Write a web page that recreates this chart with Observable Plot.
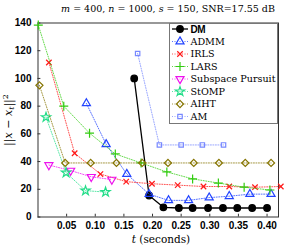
<!DOCTYPE html>
<html><head><meta charset="utf-8">
<script src="https://cdn.jsdelivr.net/npm/d3@7"></script>
<script src="https://cdn.jsdelivr.net/npm/@observablehq/plot@0.6"></script>
<style>body{margin:0;background:#fff}#chart{width:287px;height:245px}</style>
</head><body><div id="chart"></div>
<script>
// ---- data ----
const methods = ["DM","ADMM","IRLS","LARS","Subspace Pursuit","StOMP","AIHT","AM"];
const dmT   = [0.168,0.194,0.219,0.246,0.270,0.297,0.323,0.348,0.374,0.400];
const dmV   = [100,15.5,7,6.5,6.5,6.5,6.5,6.5,6.5,6.5];
const admmT = [0.0845,0.119,0.155,0.194,0.228,0.263,0.299,0.334,0.370,0.407];
const admmV = [82,52.5,31,16.5,12,12,14,15,16.5,16.5];
const irlsT = [0.019,0.064,0.109,0.154,0.199,0.244,0.289,0.334,0.379,0.424];
const irlsV = [111.5,46,31,25.5,24,23,22,22,21.5,22];
const larsT = [0.0005,0.045,0.09,0.135,0.18,0.225,0.27,0.315,0.36,0.405];
const larsV = [138.5,80,60.5,45.5,39,32.5,27.5,24.5,21.5,19.5];
const spT   = [0.019,0.057,0.093,0.129];
const spV   = [37.5,33.5,29,27];
const stompT= [0.014,0.049,0.083,0.118];
const stompV= [72,32,19,18];
const aihtT = [0.0025,0.0475,0.092,0.137,0.182,0.227,0.272,0.316,0.362,0.407];
const aihtV = [95,39,39,39,39,39,39,39,39,39];
const amT   = [0.174,0.212,0.25,0.287,0.324];
const amV   = [118,52,52,52,52];
const xTicks = [0.05,0.1,0.15,0.2,0.25,0.3,0.35,0.4];
const yTicks = [0,20,40,60,80,100,120,140];
const titleParts = [["m",true],[" = 400, ",false],["n",true],[" = 1000, ",false],["s",true],[" = 150, SNR=17.55 dB",false]];

// ---- styles ----
const triangleDown = {draw(ctx, size){const y=-Math.sqrt(size/(Math.sqrt(3)*3));ctx.moveTo(0,-y*2);ctx.lineTo(-Math.sqrt(3)*y,y);ctx.lineTo(Math.sqrt(3)*y,y);ctx.closePath();}};
const styles = {
  "DM":{color:"#000",symbol:"circle",fill:"#000",r:3.3,dash:null,lw:1.3},
  "ADMM":{color:"#2244ff",symbol:"triangle",fill:"none",r:3,dash:"1,1.5",lw:1},
  "IRLS":{color:"#ff1a1a",symbol:"times",fill:"none",r:2.6,dash:"1,1.5",lw:1},
  "LARS":{color:"#33cc11",symbol:"plus",fill:"none",r:3,dash:"1,1.5",lw:1},
  "Subspace Pursuit":{color:"#ee11ee",symbol:triangleDown,fill:"none",r:3,dash:"1,1.5",lw:1},
  "StOMP":{color:"#22dd88",symbol:"star",fill:"none",r:2.9,dash:"1,1.5",lw:1},
  "AIHT":{color:"#857400",symbol:"diamond2",fill:"none",r:3.2,dash:"1,1.5",lw:1},
  "AM":{color:"#7788ff",symbol:"square2",fill:"none",r:2.8,dash:"1,1.5",lw:1}
};
const series = {
  "DM":[dmT,dmV],"ADMM":[admmT,admmV],"IRLS":[irlsT,irlsV],"LARS":[larsT,larsV],
  "Subspace Pursuit":[spT,spV],"StOMP":[stompT,stompV],"AIHT":[aihtT,aihtV],"AM":[amT,amV]
};

const marks = [
  Plot.frame({stroke:"#333"}),
  Plot.ruleX(xTicks,{y1:0,y2:2,stroke:"#333"}),
  Plot.ruleY(yTicks,{x1:0,x2:0.005,stroke:"#333"})
];
for (const m of methods) {
  const [T,V] = series[m];
  const data = T.map((t,i)=>({t, v:V[i]}));
  const s = styles[m];
  marks.push(Plot.line(data,{x:"t",y:"v",stroke:s.color,strokeWidth:s.lw,strokeDasharray:s.dash||undefined,strokeOpacity:m==="DM"?1:0.75}));
  marks.push(Plot.dot(data,{x:"t",y:"v",symbol:()=>s.symbol,r:s.r,stroke:s.color,fill:s.fill,strokeWidth:1.2}));
}
marks.push(Plot.axisX({ticks:xTicks,tickSize:0,tickPadding:4.5,label:null}));
marks.push(Plot.axisY({ticks:yTicks,tickSize:0,tickPadding:6.5,label:null}));

const svgNode = Plot.plot({
  width:287,height:245,
  marginLeft:37.5,marginRight:9,marginTop:22.5,marginBottom:28.5,
  x:{domain:[0,0.42]},
  y:{domain:[0,140]},
  symbol:{type:"identity"},
  style:{fontFamily:"'Liberation Sans',Arial,sans-serif",fontSize:"10px",fontWeight:"bold",color:"#000",background:"#fff",overflow:"visible"},
  marks
});
document.getElementById("chart").appendChild(svgNode);

// ---- annotations (title, axis labels, legend) ----
const svg = d3.select(svgNode);
const serif = "'DejaVu Serif','Liberation Serif',serif";
const tt = svg.append("text").attr("x",168).attr("y",12).attr("text-anchor","middle")
  .attr("font-family",serif).attr("font-size",9.5).attr("font-weight","normal");
titleParts.forEach(([s,it])=>tt.append("tspan").attr("font-style",it?"italic":"normal").text(s));

const xl = svg.append("text").attr("x",161).attr("y",242.5).attr("text-anchor","middle")
  .attr("font-family",serif).attr("font-size",10.5).attr("font-weight","normal");
xl.append("tspan").attr("font-style","italic").text("t");
xl.append("tspan").text(" (seconds)");

const yl = svg.append("text").attr("transform","translate(12,120) rotate(-90)").attr("text-anchor","middle")
  .attr("font-family",serif).attr("font-size",11).attr("font-weight","normal");
yl.append("tspan").text("||");
yl.append("tspan").attr("font-style","italic").text("x");
yl.append("tspan").text(" − ");
yl.append("tspan").attr("font-style","italic").text("x");
yl.append("tspan").attr("font-style","italic").attr("font-size",8).attr("dy",2).text("t");
yl.append("tspan").attr("dy",-2).text("||");
yl.append("tspan").attr("font-size",8).attr("dy",-4).text("2");

const lg = svg.append("g").attr("text-anchor","start");
lg.append("rect").attr("x",169.5).attr("y",23.5).attr("width",108).attr("height",100)
  .attr("fill","#fff").attr("stroke","#777").attr("stroke-width",1);
const symMap = {circle:d3.symbolCircle,triangle:d3.symbolTriangle,times:d3.symbolTimes,plus:d3.symbolPlus,star:d3.symbolStar,diamond2:d3.symbolDiamond2,square2:d3.symbolSquare2};
methods.forEach((m,i)=>{
  const s = styles[m]; const y = 29 + i*12.5;
  lg.append("line").attr("x1",172).attr("x2",188).attr("y1",y).attr("y2",y)
    .attr("stroke",s.color).attr("stroke-width",s.lw).attr("stroke-dasharray",s.dash)
    .attr("stroke-opacity",m==="DM"?1:0.75);
  const t = typeof s.symbol === "string" ? symMap[s.symbol] : s.symbol;
  lg.append("path").attr("transform",`translate(180,${y})`)
    .attr("d",d3.symbol(t, Math.PI*s.r*s.r)())
    .attr("fill",s.fill).attr("stroke",s.color).attr("stroke-width",1.2);
  const tx = lg.append("text").attr("x",190.5).attr("y",y).attr("dy","0.35em").attr("text-anchor","start").text(m);
  if (m==="DM") tx.attr("font-family","'Liberation Sans',Arial,sans-serif").attr("font-weight","bold").attr("font-size",10).attr("letter-spacing",-0.5);
  else tx.attr("font-family",serif).attr("font-weight","normal").attr("font-size",9.6);
});
</script>
</body></html>
